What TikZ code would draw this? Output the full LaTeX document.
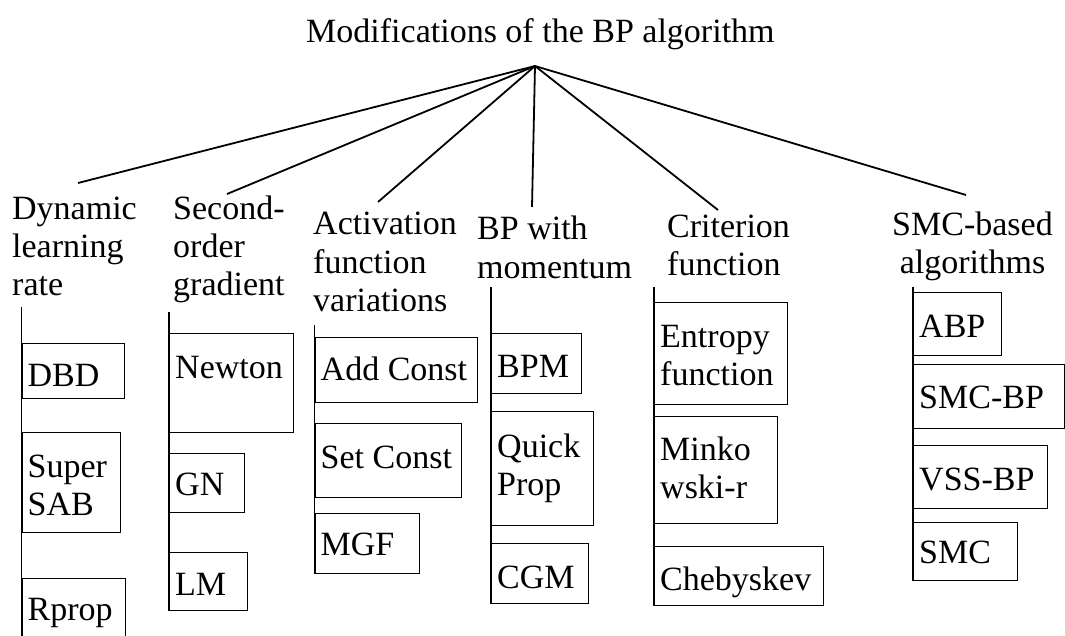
\documentclass[tikz,border=0pt]{standalone}
\usepackage{fontspec}
\setmainfont{Liberation Serif}
\tikzset{
  lbl/.style={inner sep=0pt, font=\fontsize{34}{38}\selectfont, anchor=base west, align=left},
  leafbox/.style={draw, line width=1.1pt, inner sep=0pt, anchor=north west},
  spoke/.style={line width=1.8pt},
  trunk/.style={line width=1.3pt},
}
% leaf box: name, left, top, right, bottom, text, baseline of last text line
\newcommand{\leaf}[7]{%
  \node[leafbox, minimum width={(#4-#2)*1pt}, minimum height={(#5-#3)*1pt}] (#1) at (#2,#3) {};
  \node[lbl] (#1-text) at ({#2+6},#7) {#6};
}
\begin{document}
\begin{tikzpicture}[x=1pt,y=-1pt]
\clip (0,0) rectangle (1065,635);
\fill[white] (0,0) rectangle (1065,635);

% root
\node[lbl] (title) at (306,42) {Modifications of the BP algorithm};
\coordinate (apex) at (535,66);

% categories (anchored at the baseline of their last line)
\begin{scope}[every node/.append style={font=\fontsize{34}{37}\selectfont}]
\node[lbl] (c1) at (12,295) {Dynamic\\learning\\rate};
\node[lbl] (c2) at (173,295) {Second-\\order\\gradient};
\node[lbl, font=\fontsize{34}{38.3}\selectfont] (c3) at (313,311.5) {Activation\\function\\variations};
\node[lbl, font=\fontsize{34}{39}\selectfont] (c4) at (477,278) {BP with\\momentum};
\node[lbl, font=\fontsize{34}{38}\selectfont] (c5) at (667,275) {Criterion\\function};
\node[lbl, align=center] (c6) at (892,273.5) {SMC-based\\algorithms};
\end{scope}

% spokes from the root
\coordinate (k1) at (78,183);
\coordinate (k2) at (227,194);
\coordinate (k3) at (378,202);
\coordinate (k4) at (532,207);
\coordinate (k5) at (718,210);
\coordinate (k6) at (966,195);
\foreach \k in {1,...,6} \draw[spoke] (apex) -- (k\k);

% column 1
\leaf{dbd}{21.5}{343}{124}{398}{DBD}{386}
\leaf{ssab}{21.5}{432}{120}{532}{Super\\SAB}{515}
\leaf{rprop}{21.5}{578}{125}{660}{Rprop}{620}
\coordinate (t1) at (21.5,307);
\draw[trunk] (t1) -- (rprop.south west);

% column 2
\leaf{newton}{169}{333}{293}{432}{Newton}{378}
\leaf{gn}{169}{453}{244}{512}{GN}{495}
\leaf{lm}{169}{552}{247}{610}{LM}{595}
\coordinate (t2) at (169,312);
\draw[trunk] (t2) -- (lm.south west);

% column 3
\leaf{addc}{314.5}{337}{477}{402}{Add Const}{380}
\leaf{setc}{314.5}{423}{461}{497}{Set Const}{468}
\leaf{mgf}{314.5}{513}{419}{573}{MGF}{555}
\coordinate (t3) at (314.5,325);
\draw[trunk] (t3) -- (mgf.south west);

% column 4
\leaf{bpm}{491}{333}{581}{393}{BPM}{377}
\leaf{qprop}{491}{411}{593}{525}{Quick\\Prop}{495}
\leaf{cgm}{491}{543}{588}{603}{CGM}{588}
\coordinate (t4) at (491,287);
\draw[trunk] (t4) -- (cgm.south west);

% column 5
\leaf{entropy}{654}{302}{787}{404}{Entropy\\function}{385}
\leaf{minko}{654}{416}{777}{523}{Minko\\wski-r}{498}
\leaf{cheb}{654}{546}{823}{605}{Chebyskev}{590}
\coordinate (t5) at (654,287);
\draw[trunk] (t5) -- (cheb.south west);

% column 6
\leaf{abp}{913}{292}{1001}{355}{ABP}{337}
\leaf{smcbp}{913}{364}{1064}{428}{SMC-BP}{408}
\leaf{vssbp}{913}{445}{1047}{508}{VSS-BP}{490}
\leaf{smc}{913}{522}{1017}{580}{SMC}{563}
\coordinate (t6) at (913,287);
\draw[trunk] (t6) -- (smc.south west);
\end{tikzpicture}
\end{document}
